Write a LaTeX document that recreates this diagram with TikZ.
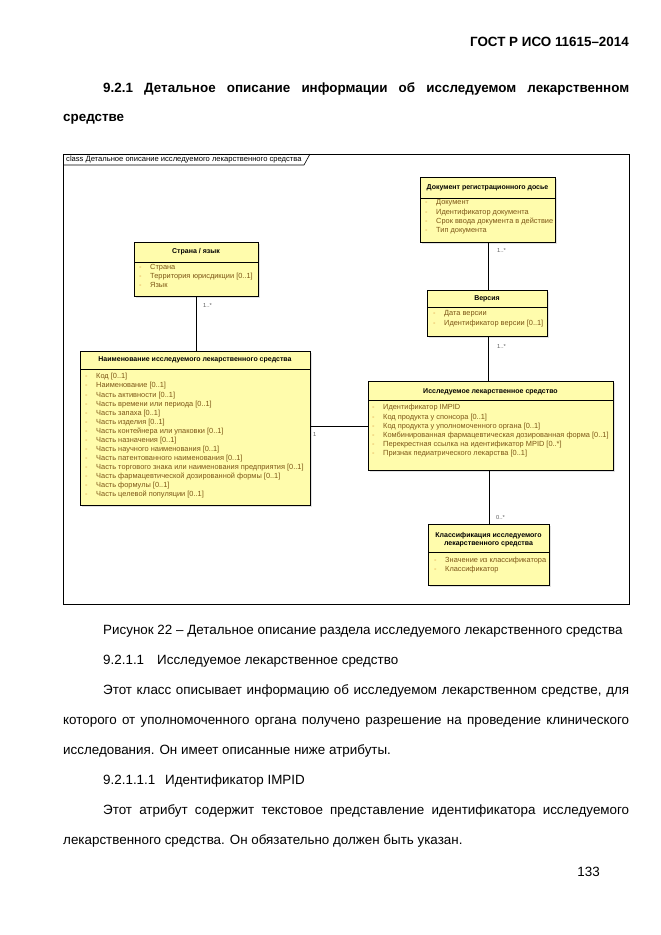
\documentclass[tikz,border=0pt]{standalone}
\usepackage{fontspec}
\setmainfont{Liberation Sans}
\usetikzlibrary{shadows}

\definecolor{clsfill}{RGB}{255,252,172}
\definecolor{attrtext}{RGB}{125,86,22}
\definecolor{attrdash}{RGB}{222,150,60}
\definecolor{multtext}{RGB}{95,95,95}

\newcommand{\umlattr}[1]{\makebox[11pt][l]{\textcolor{attrdash}{-}}#1}

\tikzset{
  cls/.style 2 args={draw, line width=0.8pt, fill=clsfill, anchor=north west,
    inner sep=0pt, minimum width=#1pt, minimum height=#2pt,
    drop shadow={shadow xshift=2pt, shadow yshift=-2pt, fill=black!22}},
  clstitle/.style={font=\fontsize{7}{7.8}\selectfont\bfseries, inner sep=0pt, align=center},
  clsattr/.style={font=\fontsize{7.4}{8}\selectfont, text=attrtext, inner sep=0pt,
    text height=5.3pt, text depth=1.5pt, anchor=west},
  mult/.style={font=\fontsize{5.8}{7}\selectfont, text=multtext, inner sep=0pt, anchor=west},
  txt/.style={font=\fontsize{13.4}{16}\selectfont, inner sep=0pt, anchor=base west},
  assoc/.style={line width=0.8pt},
}

\begin{document}
\begin{tikzpicture}[x=1pt,y=-1pt]
   \useasboundingbox[fill=white] (0,0) rectangle (661,935);

   % page text above the figure
   \node[txt, anchor=base east] (gost) at (629,46) {\bfseries ГОСТ Р ИСО 11615–2014};
   \node[txt] (head1) at (103,92) {\makebox[526pt][s]{\bfseries 9.2.1 Детальное описание информации об исследуемом лекарственном}};
   \node[txt] (head2) at (63,121) {\bfseries средстве};

   % diagram frame
   \draw[line width=0.6pt] (63,154) rectangle (629,604);
   \draw[line width=0.6pt] (63,165) -- (304,165) -- (310,154);
   \node[font=\fontsize{7.6}{8}\selectfont, inner sep=0pt, anchor=west] (frame) at (66,159.5)
      {class Детальное описание исследуемого лекарственного средства};

   % Страна / язык
   \node[cls={124}{54}] (lang) at (134,242) {};
   \draw[line width=0.8pt] (134,262) -- (258,262);
   \node[clstitle] at (196,252) {Страна / язык};
   \foreach \a [count=\i from 0] in {Страна, Территория юрисдикции [0..1], Язык}
      \node[clsattr] at (139,268+9*\i) {\umlattr{\a}};

   % Документ регистрационного досье
   \node[cls={135}{65}] (dossier) at (420,177) {};
   \draw[line width=0.8pt] (420,198) -- (555,198);
   \node[clstitle] at (487.5,188) {Документ регистрационного досье};
   \foreach \a [count=\i from 0] in {Документ, Идентификатор документа,
      Срок ввода документа в действие, Тип документа}
      \node[clsattr] at (425,203+9.1*\i) {\umlattr{\a}};

   % Версия
   \node[cls={120}{46}] (version) at (427,290) {};
   \draw[line width=0.8pt] (427,307) -- (547,307);
   \node[clstitle] at (487,299) {Версия};
   \foreach \a [count=\i from 0] in {Дата версии, Идентификатор версии [0..1]}
      \node[clsattr] at (433,314+9.3*\i) {\umlattr{\a}};

   % Наименование исследуемого лекарственного средства
   \node[cls={230}{154}] (name) at (80,351) {};
   \draw[line width=0.8pt] (80,369) -- (310,369);
   \node[clstitle] at (195,360) {Наименование исследуемого лекарственного средства};
   \foreach \a [count=\i from 0] in {Код [0..1], Наименование [0..1],
      Часть активности [0..1], Часть времени или периода [0..1],
      Часть запаха [0..1], Часть изделия [0..1],
      Часть контейнера или упаковки [0..1], Часть назначения [0..1],
      Часть научного наименования [0..1], Часть патентованного наименования [0..1],
      Часть торгового знака или наименования предприятия [0..1],
      Часть фармацевтической дозированной формы [0..1],
      Часть формулы [0..1], Часть целевой популяции [0..1]}
      \node[clsattr] at (85,377+9.08*\i) {\umlattr{\a}};

   % Исследуемое лекарственное средство
   \node[cls={245}{89}] (imp) at (368,381) {};
   \draw[line width=0.8pt] (368,400) -- (613,400);
   \node[clstitle] at (490.5,392) {Исследуемое лекарственное средство};
   \foreach \a [count=\i from 0] in {Идентификатор IMPID, Код продукта у спонсора [0..1],
      Код продукта у уполномоченного органа [0..1],
      Комбинированная фармацевтическая дозированная форма [0..1],
      Перекрестная ссылка на идентификатор MPID [0..*],
      Признак педиатрического лекарства [0..1]}
      \node[clsattr] at (372,408+9.2*\i) {\umlattr{\a}};

   % Классификация исследуемого лекарственного средства
   \node[cls={121}{61}] (classif) at (428,524) {};
   \draw[line width=0.8pt] (428,552) -- (549,552);
   \node[clstitle] at (488.5,540) {Классификация исследуемого\\лекарственного средства};
   \foreach \a [count=\i from 0] in {Значение из классификатора, Классификатор}
      \node[clsattr] at (434,561+8.5*\i) {\umlattr{\a}};

   % associations
   \draw[assoc] (lang.south) -- (lang.south |- name.north);
   \draw[assoc] (dossier.south) -- (dossier.south |- version.north);
   \draw[assoc] (version.south -| dossier.south) -- (dossier.south |- imp.north);
   \draw[assoc] (imp.south -| classif.north) -- (classif.north);
   \draw[assoc] (imp.west -| name.east) -- (imp.west);

   \node[mult] (m1) at (203,305) {1..*};
   \node[mult] (m2) at (497,250) {1..*};
   \node[mult] (m3) at (497,346) {1..*};
   \node[mult] (m4) at (496,517) {0..*};
   \node[mult] (m5) at (313,434) {1};

   % page text below the figure
   \node[txt] (cap) at (103,634) {Рисунок 22 – Детальное описание раздела исследуемого лекарственного средства};
   \node[txt] (s1) at (103,664) {\makebox[54pt][l]{9.2.1.1}Исследуемое лекарственное средство};
   \node[txt] (p1a) at (103,694) {\makebox[526pt][s]{Этот класс описывает информацию об исследуемом лекарственном средстве, для}};
   \node[txt] (p1b) at (63,724) {\makebox[566pt][s]{которого от уполномоченного органа получено разрешение на проведение клинического}};
   \node[txt] (p1c) at (63,754) {исследования. Он имеет описанные ниже атрибуты.};
   \node[txt] (s2) at (103,784) {\makebox[62pt][l]{9.2.1.1.1}Идентификатор IMPID};
   \node[txt] (p2a) at (103,814) {\makebox[526pt][s]{Этот атрибут содержит текстовое представление идентификатора исследуемого}};
   \node[txt] (p2b) at (63,844) {лекарственного средства. Он обязательно должен быть указан.};
   \node[txt, anchor=base east] (page) at (600,876) {133};
\end{tikzpicture}
\end{document}
